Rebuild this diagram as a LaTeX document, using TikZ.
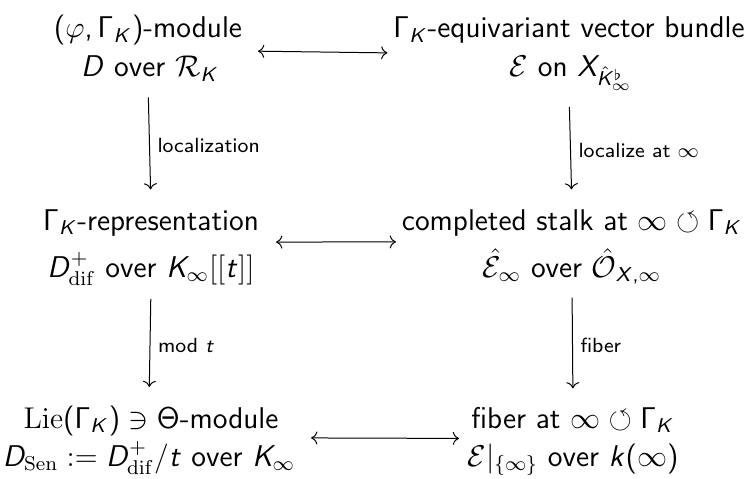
\documentclass[tikz,border=0pt]{standalone}
\usepackage{amsmath,amssymb}
\usetikzlibrary{arrows.meta,fit}
\renewcommand\familydefault{\sfdefault}
\DeclareSymbolFont{sfit}{OT1}{cmss}{m}{sl}
\DeclareSymbolFont{sfup}{OT1}{cmss}{m}{n}
\DeclareMathSymbol{D}{\mathalpha}{sfit}{`D}
\DeclareMathSymbol{K}{\mathalpha}{sfit}{`K}
\DeclareMathSymbol{X}{\mathalpha}{sfit}{`X}
\DeclareMathSymbol{t}{\mathalpha}{sfit}{`t}
\DeclareMathSymbol{k}{\mathalpha}{sfit}{`k}
\DeclareMathSymbol{\Gamma}{\mathalpha}{sfup}{"00}
\DeclareMathSymbol{\Theta}{\mathalpha}{sfup}{"02}
\DeclareMathSymbol{(}{\mathopen}{sfup}{`(}
\DeclareMathSymbol{)}{\mathclose}{sfup}{`)}
\DeclareMathSymbol{,}{\mathpunct}{sfup}{`,}
\tikzset{
  ln/.style={anchor=base,inner sep=0pt,font=\fontsize{12}{14.5}\selectfont},
  cell/.style={inner sep=0pt,draw=none},
  lbl/.style={font=\fontsize{8.2}{10}\selectfont,anchor=west,inner sep=0pt},
  iso/.style={{Computer Modern Rightarrow}-{Computer Modern Rightarrow},line width=0.4pt},
  dn/.style={-{Computer Modern Rightarrow},line width=0.4pt}
}
\begin{document}
\begin{tikzpicture}[x=0.4pt,y=-0.4pt]
\useasboundingbox (0,0) rectangle (753,479);
% top row
\node[ln] (tl1) at (148,38) {$(\varphi,\Gamma_K)$-module};
\node[ln] (tl2) at (150,77) {$D$ over $\mathcal{R}_K$};
\node[ln] (tr1) at (569,38) {$\Gamma_K$-equivariant vector bundle};
\node[ln] (tr2) at (571,77) {$\mathcal{E}$ on $X_{\hat{K}^\flat_\infty}$};
% middle row
\node[ln] (ml1) at (151,230) {$\Gamma_K$-representation};
\node[ln] (ml2) at (151,277) {$D^+_{\mathrm{dif}}$ over $K_\infty[[t]]$};
\node[ln] (mr1) at (572,230) {completed stalk at $\infty\circlearrowleft\Gamma_K$};
\node[ln] (mr2) at (572,277) {$\hat{\mathcal{E}}_\infty$ over $\hat{\mathcal{O}}_{X,\infty}$};
% bottom row
\node[ln] (bl1) at (151,428) {$\mathrm{Lie}(\Gamma_K)\ni\Theta$-module};
\node[ln] (bl2) at (149,466) {$D_{\mathrm{Sen}}:=D^+_{\mathrm{dif}}/t$ over $K_\infty$};
\node[ln] (br1) at (573,428) {fiber at $\infty\circlearrowleft\Gamma_K$};
\node[ln] (br2) at (573,466) {$\mathcal{E}|_{\{\infty\}}$ over $k(\infty)$};
% cells
\node[cell,fit=(tl1)(tl2)] (tl) {};
\node[cell,fit=(tr1)(tr2)] (tr) {};
\node[cell,fit=(ml1)(ml2)] (ml) {};
\node[cell,fit=(mr1)(mr2)] (mr) {};
\node[cell,fit=(bl1)(bl2)] (bl) {};
\node[cell,fit=(br1)(br2)] (br) {};
% horizontal
\draw[iso,shorten <=6pt,shorten >=2pt,transform canvas={yshift=-0.5pt}] (tl) -- (tr);
\draw[iso,shorten <=6.5pt,shorten >=2pt,transform canvas={yshift=2pt}] (ml) -- (mr);
\draw[iso,shorten <=6pt,shorten >=3pt,transform canvas={yshift=1pt}] (bl) -- (br);
% vertical
\draw[dn,shorten <=6pt,shorten >=7.5pt] (tl.south) -- node[lbl,right=3pt] (l1) {localization} (ml.north);
\draw[dn,shorten <=6pt,shorten >=7.5pt] (tr.south) -- node[lbl,right=3pt] (l2) {localize at $\infty$} (mr.north);
\draw[dn,shorten <=5pt,shorten >=7pt] (ml.south) -- node[lbl,right=3pt] (l3) {mod $t$} (bl.north);
\draw[dn,shorten <=5pt,shorten >=7pt] (mr.south) -- node[lbl,right=3pt] (l4) {fiber} (br.north);
\end{tikzpicture}
\end{document}
